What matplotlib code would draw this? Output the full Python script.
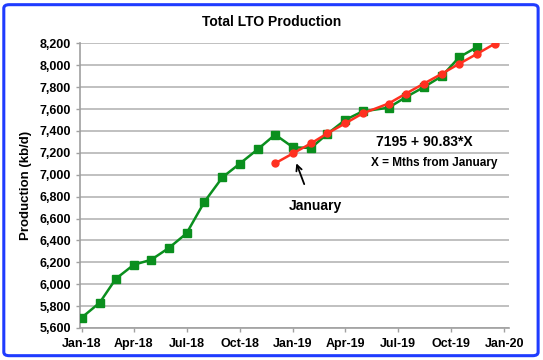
import matplotlib.pyplot as plt
import matplotlib.dates as mdates
from matplotlib.patches import FancyBboxPatch
import pandas as pd

plt.rcParams['font.family'] = ['Liberation Sans', 'DejaVu Sans']
plt.rcParams['font.weight'] = 'bold'

# monthly LTO production, kb/d
lto_dates = ['2018-01-01', '2018-02-01', '2018-03-01', '2018-04-01', '2018-05-01', '2018-06-01',
             '2018-07-01', '2018-08-01', '2018-09-01', '2018-10-01', '2018-11-01', '2018-12-01',
             '2019-01-01', '2019-02-01', '2019-03-01', '2019-04-01', '2019-05-01', '2019-06-15',
             '2019-07-15', '2019-08-15', '2019-09-15', '2019-10-15', '2019-11-15']
lto_prod = [5695, 5831, 6050, 6178, 6223, 6333, 6464, 6753, 6976, 7101, 7232, 7366,
            7250, 7244, 7372, 7500, 7578, 7612, 7709, 7800, 7900, 8073, 8167]

# fitted trend line
fit_dates = ['2018-12-01', '2019-01-01', '2019-02-01', '2019-03-01', '2019-04-01', '2019-05-01',
             '2019-06-15', '2019-07-15', '2019-08-15', '2019-09-15', '2019-10-15', '2019-11-15',
             '2019-12-15']
fit_prod = [7104, 7195, 7286, 7377, 7468, 7559, 7650, 7741, 7832, 7922, 8013, 8104, 8195]

tick_dates = ['2018-01-01', '2018-04-01', '2018-07-01', '2018-10-01', '2019-01-01',
              '2019-04-01', '2019-07-01', '2019-10-01', '2020-01-01']

green = '#0a8f1e'
red = '#ff3020'

fig = plt.figure(figsize=(5.43, 3.6), dpi=100)
fig.patches.append(FancyBboxPatch((0.007, 0.012), 0.984, 0.975, boxstyle='round,pad=0,rounding_size=0.01',
                                  transform=fig.transFigure, fill=False, ec='#1f3cff', lw=2.2))
ax = fig.add_axes([0.1473, 0.0889, 0.7901, 0.7908])

ax.plot(pd.to_datetime(lto_dates), lto_prod, '-s', color=green, lw=1.8, ms=5.5, zorder=3)
ax.plot(pd.to_datetime(fit_dates), fit_prod, '-o', color=red, lw=1.8, ms=5, zorder=4)

ax.set_xlim(pd.Timestamp('2017-12-29'), pd.Timestamp('2020-01-09'))
ax.set_ylim(5600, 8200)
ax.set_yticks(range(5600, 8201, 200))
ax.yaxis.set_major_formatter(plt.FuncFormatter(lambda v, p: f'{int(v):,}'))
ax.set_xticks(pd.to_datetime(tick_dates))
ax.xaxis.set_major_formatter(mdates.DateFormatter('%b-%y'))
ax.grid(axis='y', color='#c0c0c0', lw=1.4)
ax.set_axisbelow(True)
for s in ['top', 'right']:
    ax.spines[s].set_visible(False)
for s in ['left', 'bottom']:
    ax.spines[s].set_color('#a0a0a0')
    ax.spines[s].set_linewidth(1.2)
ax.tick_params(colors='#a0a0a0', labelcolor='black', labelsize=9, length=3, width=1)
ax.tick_params(axis='x', pad=4)
ax.set_ylabel('Production (kb/d)', fontsize=9.5, fontweight='bold', labelpad=5)
fig.suptitle('Total LTO Production', x=0.5, y=0.957, fontsize=10, fontweight='bold')

ax.text(pd.Timestamp('2019-08-16'), 7301, '7195 + 90.83*X', fontsize=10, fontweight='bold', ha='center', va='center')
ax.text(pd.Timestamp('2019-09-01'), 7110, 'X = Mths from January', fontsize=8.5, fontweight='bold', ha='center', va='center')
ax.text(pd.Timestamp('2019-02-08'), 6717, 'January', fontsize=10, fontweight='bold', ha='center', va='center')
ax.annotate('', xy=(pd.Timestamp('2019-01-05'), 7128), xytext=(pd.Timestamp('2019-01-22'), 6890),
            arrowprops=dict(arrowstyle='->', color='black', lw=1.3))

fig.savefig('out.png', dpi=100)
